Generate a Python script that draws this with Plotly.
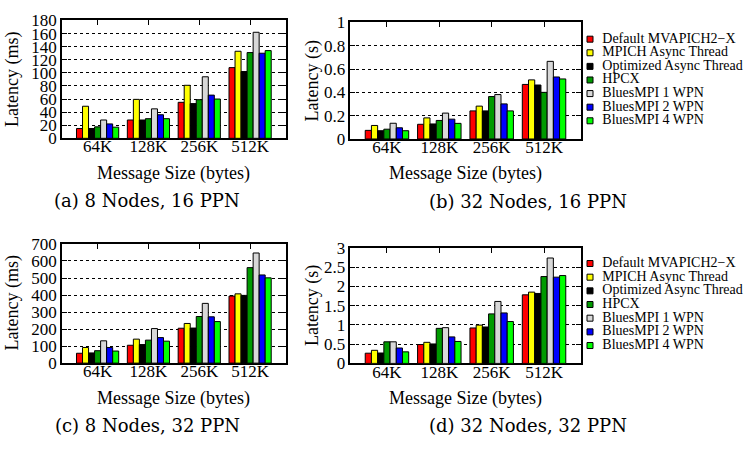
import plotly.graph_objects as go

sizes = ["64K", "128K", "256K", "512K"]
series = ["Default MVAPICH2−X", "MPICH Async Thread", "Optimized Async Thread",
          "HPCX", "BluesMPI 1 WPN", "BluesMPI 2 WPN", "BluesMPI 4 WPN"]
colors = ["#ff0000", "#ffff00", "#000000", "#009a00", "#d8d8d8", "#0000ff", "#00ff00"]

# (a) 8 Nodes, 16 PPN  - latency in ms, one row per series
lat_8n_16ppn = [
    [15, 28, 55, 108],
    [49, 59.5, 81, 133],
    [15, 28, 53, 102],
    [17.5, 30, 59, 131],
    [28, 45, 94, 162],
    [22, 36, 66, 130],
    [17, 30, 60, 134],
]
# (b) 32 Nodes, 16 PPN - latency in s
lat_32n_16ppn = [
    [0.074, 0.126, 0.241, 0.468],
    [0.116, 0.181, 0.282, 0.507],
    [0.071, 0.129, 0.241, 0.463],
    [0.084, 0.159, 0.364, 0.400],
    [0.135, 0.222, 0.381, 0.666],
    [0.096, 0.170, 0.301, 0.532],
    [0.071, 0.134, 0.241, 0.515],
]
# (c) 8 Nodes, 32 PPN - latency in ms
lat_8n_32ppn = [
    [58, 105, 205, 394],
    [92, 141, 233, 407],
    [60, 109, 206, 398],
    [73, 135, 274, 561],
    [131, 203, 351, 647],
    [92, 150, 272, 518],
    [71, 129, 244, 501],
]
# (d) 32 Nodes, 32 PPN - latency in s
lat_32n_32ppn = [
    [0.265, 0.49, 0.92, 1.78],
    [0.34, 0.547, 0.994, 1.85],
    [0.27, 0.505, 0.945, 1.815],
    [0.56, 0.91, 1.285, 2.254],
    [0.56, 0.928, 1.608, 2.735],
    [0.40, 0.688, 1.31, 2.238],
    [0.30, 0.57, 1.086, 2.28],
]

y_titles = ["Latency (ms)", "Latency (s)", "Latency (ms)", "Latency (s)"]
captions = ["(a) 8 Nodes, 16 PPN", "(b) 32 Nodes, 16 PPN",
            "(c) 8 Nodes, 32 PPN", "(d) 32 Nodes, 32 PPN"]
y_ranges = [[0, 180], [0, 1], [0, 700], [0, 3]]
y_dticks = [20, 0.2, 100, 0.5]

W, H = 749, 451
def px(x):
    return x / W
def py(y):
    return 1 - y / H

# plot boxes in pixels: (left, right, top, bottom)
boxes = [(62, 285.7, 12, 135), (350.3, 580.7, 14, 135.7),
         (62, 285.7, 245.3, 369.7), (350.3, 580.7, 249.3, 370)]
ytitle_offset = [49.5, 37.5, 49.0, 37.8]

SERIF = "'Liberation Serif', 'Times New Roman', Times, serif"
CAP = "'DejaVu Serif', serif"
fig = go.Figure()
panels = [lat_8n_16ppn, lat_32n_16ppn, lat_8n_32ppn, lat_32n_32ppn]
for p, data in enumerate(panels):
    xa = "x" if p == 0 else f"x{p+1}"
    ya = "y" if p == 0 else f"y{p+1}"
    for s, name in enumerate(series):
        fig.add_trace(go.Bar(
            x=sizes, y=data[s], name=name, xaxis=xa, yaxis=ya,
            marker=dict(color=colors[s], line=dict(color="black", width=1)),
            showlegend=False, offsetgroup=str(s)))

layout = dict(
    width=W, height=H, margin=dict(l=0, r=0, t=0, b=0),
    paper_bgcolor="white", plot_bgcolor="white",
    barmode="group", bargap=0.17, bargroupgap=0,
    font=dict(family=SERIF, color="black"),
    showlegend=False,
)
annotations = []
for p in range(4):
    l, r, t, b = boxes[p]
    sfx = "" if p == 0 else str(p + 1)
    layout["xaxis" + sfx] = dict(
        domain=[px(l), px(r)], anchor="y" + sfx, type="category",
        range=[-0.7, 3.7], showline=True, linecolor="black", linewidth=1.5,
        mirror="ticks", ticks="inside", ticklen=5, tickcolor="black",
        showgrid=False, layer="below traces", ticklabelstandoff=-8,
        tickfont=dict(family=SERIF, size=17, color="black"))
    layout["yaxis" + sfx] = dict(
        domain=[py(b), py(t)], anchor="x" + sfx, range=y_ranges[p],
        dtick=y_dticks[p], tick0=0, showline=True, linecolor="black",
        linewidth=1.5, mirror="ticks", ticks="inside", ticklen=5,
        tickcolor="black", showgrid=True, gridcolor="black", griddash="dot",
        gridwidth=1, zeroline=False,
        tickfont=dict(family=SERIF, size=17, color="black"))
    # y title
    annotations.append(dict(
        text=y_titles[p], xref="paper", yref="paper",
        x=px(l - ytitle_offset[p]), y=py((t + b) / 2), xanchor="center", yanchor="middle",
        textangle=-90, showarrow=False, font=dict(family=SERIF, size=18, color="black")))
    # x title
    annotations.append(dict(
        text="Message Size (bytes)", xref="paper", yref="paper",
        x=px((l + r) / 2), y=py(b + 36.5), xanchor="center", yanchor="middle",
        showarrow=False, font=dict(family=SERIF, size=18, color="black")))
    # caption
    cx = 147 if p in (0, 2) else 528
    annotations.append(dict(
        text=captions[p], xref="paper", yref="paper",
        x=px(cx), y=py(b + 65), xanchor="center", yanchor="middle",
        showarrow=False, font=dict(family=CAP, size=18, color="black")))

# legends drawn as scatter traces on helper axes (rows = series index)
legend_axes = [("5", 20, 130, 31.5, 14.2), ("6", 254, 364, 265.7, 14.27)]
for sfx, top_px, bot_px, row0, step in legend_axes:
    i_top = (top_px - row0) / step
    i_bot = (bot_px - row0) / step
    layout["xaxis" + sfx] = dict(domain=[px(584), 1], range=[-6, 159],
                                 visible=False, anchor="y" + sfx, fixedrange=True)
    layout["yaxis" + sfx] = dict(domain=[py(bot_px), py(top_px)], range=[i_bot, i_top],
                                 visible=False, anchor="x" + sfx, fixedrange=True)
    fig.add_trace(go.Scatter(
        x=[0] * len(series), y=list(range(len(series))), mode="markers",
        marker=dict(symbol="square", size=6, color=colors,
                    line=dict(color="black", width=1)),
        xaxis="x" + sfx, yaxis="y" + sfx, showlegend=False, hoverinfo="skip",
        cliponaxis=False))
    fig.add_trace(go.Scatter(
        x=[12.3] * len(series), y=list(range(len(series))), mode="text",
        text=series, textposition="middle right",
        textfont=dict(family=SERIF, size=14, color="black"),
        xaxis="x" + sfx, yaxis="y" + sfx, showlegend=False, hoverinfo="skip",
        cliponaxis=False))

layout["annotations"] = annotations
fig.update_layout(**layout)
fig.write_html("out.html", config={"displayModeBar": False},
               post_script="document.body.style.margin='0';document.body.style.padding='0';")
